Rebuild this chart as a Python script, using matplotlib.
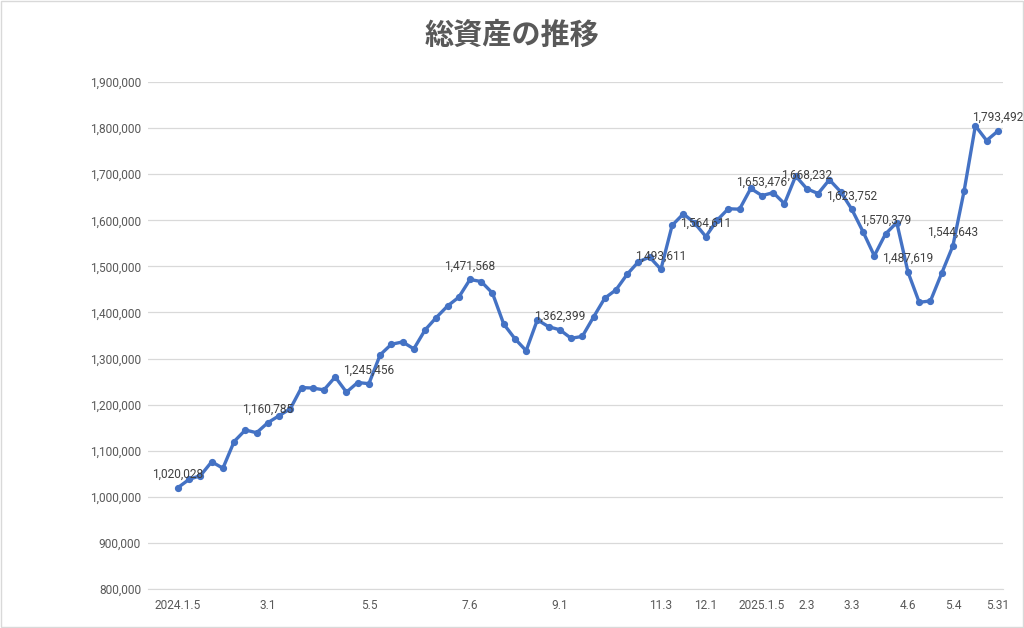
import matplotlib.pyplot as plt
from matplotlib.patches import Rectangle
from matplotlib.ticker import FuncFormatter, MultipleLocator

# 週ごとの総資産（円）
totals = [
    1020028, 1038000, 1046000, 1076000, 1062000, 1120000, 1145000, 1139000,
    1160785, 1176000, 1191000, 1237000, 1236000, 1232000, 1260000, 1227000,
    1248000, 1245456, 1308000, 1331000, 1336000, 1321000, 1362000, 1389000,
    1414000, 1433000, 1471568, 1467000, 1442000, 1375000, 1343000, 1317000,
    1384000, 1369000, 1362399, 1344000, 1348000, 1390000, 1431000, 1449000,
    1483000, 1510000, 1520000, 1493611, 1589000, 1614000, 1594000, 1564611,
    1600000, 1625000, 1624000, 1669000, 1653476, 1660000, 1636000, 1696000,
    1668232, 1658000, 1688000, 1662000, 1623752, 1575000, 1523000, 1570379,
    1595000, 1487619, 1422000, 1425000, 1485000, 1544643, 1664000, 1805000,
    1773000, 1793492,
]

# 横軸に表示する日付（それ以外の週は空欄）
date_labels = {
    0: "2024.1.5", 8: "3.1", 17: "5.5", 26: "7.6", 34: "9.1",
    43: "11.3", 47: "12.1", 52: "2025.1.5", 56: "2.3", 60: "3.3",
    65: "4.6", 69: "5.4", 73: "5.31",
}

# 値を表示する週
labeled_points = [0, 8, 17, 26, 34, 43, 47, 52, 56, 60, 63, 65, 69, 73]

plt.rcParams["font.family"] = ["Roboto", "Noto Sans CJK JP", "DejaVu Sans"]

BLUE = "#4472C4"
GRAY_TEXT = "#595959"

fig = plt.figure(figsize=(10.24, 6.28), dpi=100)
fig.patch.set_facecolor("white")
fig.patches.append(Rectangle((0.001, 0.001), 0.998, 0.997, transform=fig.transFigure,
                             fill=False, edgecolor="#D9D9D9", linewidth=1.0))

ax = fig.add_axes([148 / 1024, 1 - 589 / 628, (1003 - 148) / 1024, (589 - 82) / 628])

xs = list(range(len(totals)))
ax.plot(xs, totals, color=BLUE, linewidth=2.4, marker="o", markersize=4.2,
        markerfacecolor=BLUE, markeredgecolor=BLUE, zorder=3, clip_on=False)

for i in labeled_points:
    ax.annotate(f"{totals[i]:,}", (i, totals[i]), xytext=(0, 5), textcoords="offset points",
                ha="center", va="bottom", fontsize=8.6, color="#404040", zorder=4)

ax.set_xlim(-2.67, 73.46)
ax.set_ylim(800000, 1900000)
ax.yaxis.set_major_locator(MultipleLocator(100000))
ax.yaxis.set_major_formatter(FuncFormatter(lambda v, _: f"{int(v):,}"))
ax.set_xticks(list(date_labels.keys()))
ax.set_xticklabels(list(date_labels.values()))

ax.grid(axis="y", color="#D9D9D9", linewidth=0.9)
ax.set_axisbelow(True)
for side in ["top", "right", "left"]:
    ax.spines[side].set_visible(False)
ax.spines["bottom"].set_color("#D9D9D9")
ax.tick_params(axis="both", length=0, labelsize=8.6, colors=GRAY_TEXT)
ax.tick_params(axis="y", pad=5)
ax.tick_params(axis="x", pad=7)

fig.text(0.5, 1 - 35 / 628, "総資産の推移", ha="center", va="center", fontsize=21,
         fontweight="bold", color=GRAY_TEXT, family=["Noto Sans CJK JP"])

fig.savefig("out.png", dpi=100, facecolor="white")
